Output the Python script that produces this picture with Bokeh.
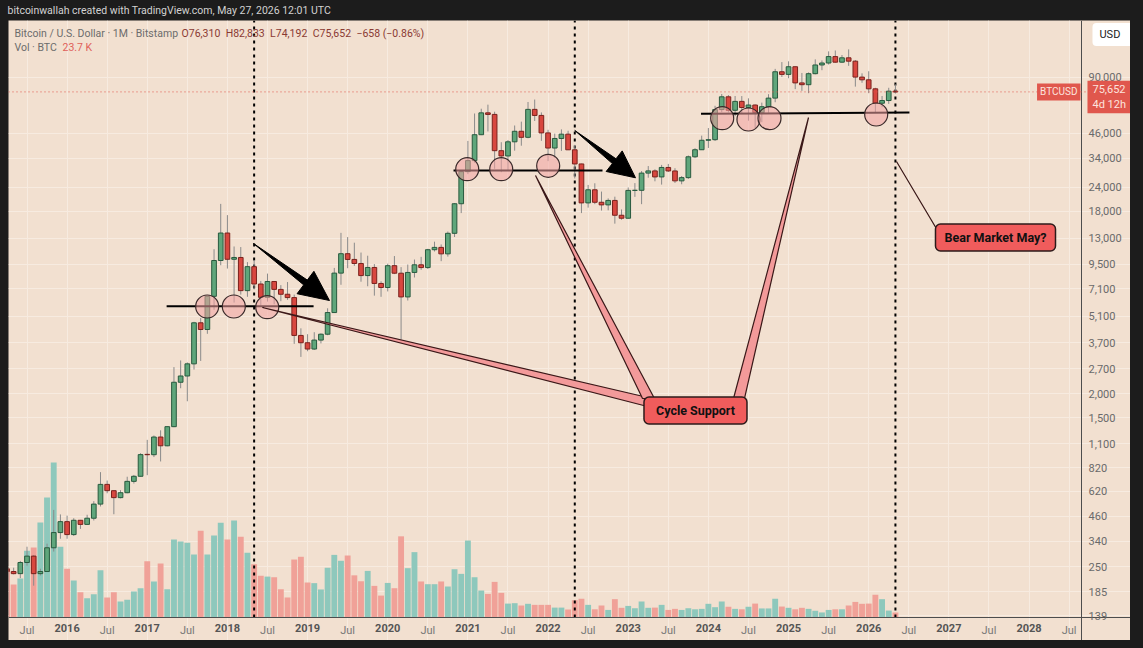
import numpy as np
from bokeh.plotting import figure
from bokeh.layouts import column
from bokeh.models import (Range1d, LinearAxis, LinearScale, FixedTicker,
                          NumeralTickFormatter, Span, Label)
from bokeh.embed import file_html
from bokeh.resources import INLINE

# ---------------- data (monthly BTC/USD, Bitstamp) ----------------
FIRST_MONTH = -9  # Apr 2015, months counted from Jan 2016

opens = [244, 236, 230, 263, 284, 230, 236, 314, 377,
         430, 368, 437, 416, 448, 531, 673, 624, 574, 609, 698, 742,
         966, 962, 1190, 1071, 1348, 2300, 2480, 2870, 4703, 4339, 6468, 9950,
         13850, 10100, 10320, 6925, 9240, 7500, 6390, 7730, 7030, 6630, 6370, 4040,
         3700, 3430, 3820, 4100, 5320, 8550, 10800, 10080, 9600, 8300, 9150, 7550,
         7190, 9350, 8540, 6420, 8620, 9450, 9140, 11330, 11650, 10780, 13800, 19700,
         28990, 33110, 45200, 58800, 57700, 37300, 35000, 41500, 47100, 43800, 61300, 57000,
         46200, 38500, 43200, 45500, 37700, 31800, 19900, 23300, 20050, 19430, 20500, 17150,
         16550, 23130, 23150, 28480, 29250, 27200, 30480, 29230, 25940, 26970, 34650, 37720,
         42280, 42580, 61150, 71300, 60640, 67500, 62700, 64600, 58950, 63300, 70200, 96400,
         93400, 102400, 84300, 82500, 94200, 104600, 107100, 115700, 108200, 114000, 109500, 90400,
         87500, 78500, 66000, 68200, 76310]
highs = [261, 247, 268, 318, 287, 244, 330, 495, 469,
         462, 448, 439, 467, 550, 780, 705, 627, 628, 738, 754, 980,
         1150, 1212, 1290, 1355, 2760, 2990, 2920, 4760, 4980, 6470, 11400, 19666,
         17176, 11780, 11700, 9760, 10000, 7780, 8500, 7760, 7400, 7680, 6600, 4400,
         4100, 4200, 4140, 5600, 9100, 13880, 13190, 12330, 10950, 10540, 9530, 7750,
         9580, 10500, 9190, 9480, 10070, 10400, 11450, 12480, 12070, 14100, 19860, 29300,
         41950, 58350, 61790, 64900, 59600, 41300, 42400, 50500, 52900, 67000, 69000, 59100,
         47950, 45800, 48200, 47400, 40000, 31900, 24700, 25200, 22800, 21000, 21450, 18400,
         23950, 25250, 29200, 31000, 29820, 31430, 31800, 30200, 27500, 35200, 38450, 44700,
         48970, 64000, 73780, 72800, 72000, 71950, 70000, 65100, 66500, 73600, 99800, 108300,
         109300, 102800, 95000, 95700, 111900, 110500, 123200, 124500, 117900, 126200, 111000, 94600,
         97000, 79500, 72000, 79500, 82833]
lows = [214, 228, 218, 253, 199, 225, 236, 300, 350,
        350, 362, 394, 413, 436, 516, 605, 470, 569, 605, 680, 740,
        752, 935, 887, 1065, 1340, 2140, 1830, 2680, 2972, 4120, 5500, 9400,
        9035, 6000, 6600, 6430, 7030, 5780, 6070, 5880, 6100, 6200, 3650, 3120,
        3340, 3390, 3670, 4050, 5320, 7430, 9070, 9330, 7710, 7300, 6520, 6430,
        6860, 8450, 3850, 6150, 8110, 8900, 8990, 11090, 9870, 10430, 13200, 17600,
        28130, 32300, 45000, 47000, 30000, 28800, 29300, 37300, 39600, 43300, 53300, 42000,
        32900, 34300, 37200, 37600, 26700, 17600, 18800, 19600, 18150, 18200, 15500, 16250,
        16500, 21400, 19600, 26950, 25800, 24800, 28850, 25300, 24900, 26550, 34100, 37600,
        38550, 41900, 59300, 59100, 56500, 58450, 53500, 49000, 52550, 58900, 66800, 90500,
        89200, 78200, 76600, 74500, 93400, 98200, 105100, 107400, 107300, 103500, 80600, 84400,
        74500, 59000, 63000, 65500, 74192]
closes = [236, 230, 263, 284, 230, 236, 314, 377, 430,
          368, 437, 416, 448, 531, 673, 624, 574, 609, 698, 742, 963,
          962, 1190, 1071, 1348, 2300, 2480, 2870, 4703, 4339, 6468, 9950, 13850,
          10100, 10320, 6925, 9240, 7500, 6390, 7730, 7030, 6630, 6370, 4040, 3700,
          3430, 3820, 4100, 5320, 8550, 10800, 10080, 9600, 8300, 9150, 7550, 7190,
          9350, 8540, 6420, 8620, 9450, 9140, 11330, 11650, 10780, 13800, 19700, 28990,
          33110, 45200, 58800, 57700, 37300, 35000, 41500, 47100, 43800, 61300, 57000, 46200,
          38500, 43200, 45500, 37700, 31800, 19900, 23300, 20050, 19430, 20500, 17150, 16550,
          23130, 23150, 28480, 29250, 27200, 30480, 29230, 25940, 26970, 34650, 37720, 42280,
          42580, 61150, 71300, 60640, 67500, 62700, 64600, 58950, 63300, 70200, 96400, 93400,
          102400, 84300, 82500, 94200, 104600, 107100, 115700, 108200, 114000, 109500, 90400, 87500,
          78500, 66000, 68200, 76310, 75652]
volume_k = [226, 156, 185, 316, 332, 450, 569, 735, 335,
            231, 175, 120, 91, 110, 224, 95, 120, 76, 84, 123, 139,
            267, 171, 256, 134, 370, 360, 354, 299, 412, 299, 389, 449,
            370, 460, 383, 307, 253, 198, 194, 191, 134, 95, 275, 288,
            166, 163, 133, 236, 297, 269, 294, 200, 172, 221, 150, 104,
            164, 139, 385, 234, 310, 171, 158, 158, 171, 147, 229, 207,
            365, 191, 128, 112, 169, 117, 66, 68, 57, 65, 60, 60,
            60, 47, 47, 38, 82, 89, 60, 39, 57, 36, 87, 46,
            55, 44, 76, 46, 47, 60, 36, 41, 36, 44, 39, 41,
            65, 49, 76, 51, 41, 39, 51, 66, 43, 43, 89, 52,
            46, 39, 46, 41, 32, 24, 36, 39, 39, 57, 74, 65,
            66, 108, 87, 33, 23.7]

year_ticks = [0, 12, 24, 36, 48, 60, 72, 84, 96, 108, 120, 132, 144]
year_labels = ["2016", "2017", "2018", "2019", "2020", "2021", "2022",
               "2023", "2024", "2025", "2026", "2027", "2028"]
jul_ticks = [-6, 6, 18, 30, 42, 54, 66, 78, 90, 102, 114, 126, 138, 150]
price_ticks = [139, 185, 250, 340, 460, 620, 820, 1100, 1500, 2000, 2700, 3700,
               5100, 7100, 9500, 13000, 18000, 24000, 34000, 46000, 90000]

# drawing annotations (month index, price)
cycle_months = [28, 76, 124]
last_price = 75652
support_x0 = [14.9, 57.85, 94.9]
support_x1 = [36.9, 80.15, 126.1]
support_y0 = [5740, 29380, 58130]
support_y1 = [5740, 29380, 59030]
circle_x = [20.97, 24.96, 29.96, 59.9, 64.99, 72.02, 98.07, 102.0, 105.15, 121.12]
circle_y = [5723, 5723, 5675, 29850, 29850, 31100, 55120, 54270, 55120, 57650]
arrow_xs = [[27.90, 35.42, 34.43, 39.28, 36.95, 35.96],
            [76.0, 81.63, 80.70, 85.09, 83.10, 82.17]]
arrow_ys = [[12210, 7421, 6674, 6150, 8741, 7863],
            [47550, 31940, 29040, 26920, 37200, 33830]]
pointer_xs = [[29.25, 86.29, 86.89], [70.12, 86.14, 87.93],
              [110.99, 99.76, 101.41], [124.16, 130.30, 131.20]]
pointer_ys = [[5654, 1938, 1718], [27670, 1892, 1892],
              [55590, 1892, 1892], [32740, 14280, 12660]]
callout_text = ["Cycle Support", "Bear Market May?"]
callout_x = [94.07, 138.98]
callout_y = [1638, 13120]
callout_padx = [12, 9]

# ---------------- styling ----------------
BG = "#f2e0d0"
DARK = "#1c1c1c"
FONT = "Roboto"
UP_FILL, UP_LINE = "#5fa67b", "#285a3e"
DN_FILL, DN_LINE = "#d8473f", "#7a221d"
VOL_UP, VOL_DN = "#8ec8bc", "#f0a198"

o = np.array(opens, float)
h = np.array(highs, float)
l = np.array(lows, float)
c = np.array(closes, float)
v = np.array(volume_k, float)
x = np.arange(len(o)) + FIRST_MONTH
up = c >= o

# ---- title strip ----
tfig = figure(width=1143, height=20, x_range=Range1d(0, 1143), y_range=Range1d(0, 20),
              output_backend="svg", toolbar_location=None,
              x_axis_location=None, y_axis_location=None, min_border=0,
              background_fill_color=DARK, border_fill_color=DARK, outline_line_color=None)
tfig.xgrid.visible = False
tfig.ygrid.visible = False
tfig.add_layout(Label(x=7, y=10, text="bitcoinwallah created with TradingView.com, May 27, 2026 12:01 UTC",
                      text_baseline="middle", text_font=FONT, text_font_size="10.5px",
                      text_color="#d2d2d2"))

# ---- main chart (frame also holds the two scale strips; axes sit at fixed spots) ----
AXIS_X = 151.86        # month position of the price-scale line
AXIS_Y = 135.7         # price at the time-scale line
Y_BOTTOM, Y_TOP = 102.9, 178600
p = figure(frame_width=1122, frame_height=620,
           x_range=Range1d(-8.77, 159.19), y_range=Range1d(Y_BOTTOM, Y_TOP),
           y_axis_type="log", y_axis_location="right",
           output_backend="svg", toolbar_location=None,
           min_border_left=0, min_border_right=0, min_border_bottom=0, min_border_top=0,
           background_fill_color=BG, border_fill_color=BG, outline_line_color=None)
p.margin = (0, 0, 0, 8)

p.extra_y_ranges = {"vol": Range1d(-109, 2831)}
p.extra_y_scales = {"vol": LinearScale()}

# grids
p.xgrid.ticker = FixedTicker(ticks=sorted(year_ticks + jul_ticks))
p.ygrid.ticker = FixedTicker(ticks=price_ticks)
p.grid.grid_line_color = "#f7ebe0"
p.grid.grid_line_width = 1

# y axis (price scale)
ya = p.yaxis[0]
ya.ticker = FixedTicker(ticks=price_ticks)
ya.formatter = NumeralTickFormatter(format="0,0")
ya.fixed_location = AXIS_X
ya.major_label_text_font = FONT
ya.major_label_text_font_size = "11px"
ya.major_label_text_color = "#6a6a6a"
ya.axis_line_color = "#4d4d4d"
ya.major_tick_line_color = None
ya.major_tick_out = 0
ya.major_tick_in = 0
ya.minor_tick_line_color = None
ya.minor_tick_out = 0
ya.major_label_standoff = 7

# x axis (years, bold)
xa = p.xaxis[0]
xa.ticker = FixedTicker(ticks=year_ticks)
xa.major_label_overrides = {t: s for t, s in zip(year_ticks, year_labels)}
xa.fixed_location = AXIS_Y
xa.major_label_text_font = FONT
xa.major_label_text_font_size = "11px"
xa.major_label_text_font_style = "bold"
xa.major_label_text_color = "#555555"
xa.axis_line_color = "#4d4d4d"
xa.major_tick_line_color = None
xa.major_tick_out = 0
xa.major_tick_in = 0
xa.minor_tick_line_color = None
xa.minor_tick_out = 0
xa.major_label_standoff = 6

# half-year labels on the same line
jul_axis = LinearAxis(ticker=FixedTicker(ticks=jul_ticks),
                      major_label_overrides={t: "Jul" for t in jul_ticks},
                      major_label_text_font=FONT, major_label_text_font_size="11px",
                      major_label_text_color="#777777", axis_line_color=None,
                      major_tick_line_color=None, major_tick_out=0, major_tick_in=0,
                      minor_tick_line_color=None, minor_tick_out=0,
                      major_label_standoff=6, fixed_location=AXIS_Y)
p.add_layout(jul_axis, "below")

# volume
p.vbar(x=x[up], width=0.88, bottom=0, top=v[up], fill_color=VOL_UP, line_color=None, y_range_name="vol")
p.vbar(x=x[~up], width=0.88, bottom=0, top=v[~up], fill_color=VOL_DN, line_color=None, y_range_name="vol")

# cycle lines & last price line
p.segment(x0=cycle_months, y0=[AXIS_Y] * len(cycle_months), x1=cycle_months,
          y1=[Y_TOP] * len(cycle_months), line_color="black", line_width=2, line_dash="3 4")
p.add_layout(Span(location=last_price, dimension="width", line_color="#e0574d",
                  line_width=1, line_dash="1 3"))

# candles
p.segment(x0=x, y0=l, x1=x, y1=h, line_color="#8a8a8a", line_width=1)
p.vbar(x=x[up], width=0.7, bottom=o[up], top=c[up], fill_color=UP_FILL, line_color=UP_LINE, line_width=1)
p.vbar(x=x[~up], width=0.7, bottom=c[~up], top=o[~up], fill_color=DN_FILL, line_color=DN_LINE, line_width=1)

# support lines, circles, arrows, pointers
p.segment(x0=support_x0, y0=support_y0, x1=support_x1, y1=support_y1, line_color="black", line_width=2)
p.scatter(x=circle_x, y=circle_y, size=23, fill_color="#f3a3a3", fill_alpha=0.55,
          line_color="#3a2a2a", line_width=1.2)
p.patches(xs=arrow_xs, ys=arrow_ys, fill_color="black", line_color="black", line_width=1)
p.patches(xs=pointer_xs, ys=pointer_ys, fill_color="#f39a9a", line_color="#3a1818", line_width=1.2)

for t, cx, cy, px in zip(callout_text, callout_x, callout_y, callout_padx):
    p.add_layout(Label(x=cx, y=cy, text=t, text_align="center", text_baseline="middle",
                       text_font=FONT, text_font_size="12.5px", text_font_style="bold",
                       text_color="#111111", background_fill_color="#f05c5c",
                       border_line_color="#2d1a1a", border_line_width=1.5,
                       padding={"left": px, "right": px, "top": 6, "bottom": 6},
                       border_radius=5))

# legend texts (top-left)
p.add_layout(Label(x=-7.87, y=152700, text="Bitcoin / U.S. Dollar · 1M · Bitstamp",
                   text_baseline="middle", text_font=FONT, text_font_size="10.5px",
                   text_color="#6c6c6c"))
p.add_layout(Label(x=17.13, y=152700,
                   text="O76,310\u2002H82,833\u2002L74,192\u2002C75,652\u2002\u2212658 (\u22120.86%)",
                   text_baseline="middle", text_font=FONT, text_font_size="10.5px",
                   text_color="#8a3a33"))
p.add_layout(Label(x=-7.87, y=129000, text="Vol · BTC", text_baseline="middle",
                   text_font=FONT, text_font_size="10.5px", text_color="#6c6c6c"))
p.add_layout(Label(x=-0.69, y=129000, text="23.7 K", text_baseline="middle",
                   text_font=FONT, text_font_size="10.5px", text_color="#e0615a"))

# price tags
p.add_layout(Label(x=151.7, y=last_price, text="BTCUSD", text_align="right",
                   text_baseline="middle", text_font=FONT, text_font_size="10px",
                   text_color="#fde3de", background_fill_color="#e0574d", padding=3))
p.add_layout(Label(x=152.75, y=71100, text="75,652\n4d 12h", text_align="left",
                   text_baseline="middle", text_font=FONT, text_font_size="11px",
                   text_color="#fde3de", background_fill_color="#e0574d",
                   padding={"left": 5, "right": 8, "top": 2, "bottom": 2}))
p.add_layout(Label(x=153.5, y=150900, text="USD", text_align="left",
                   text_baseline="middle", text_font=FONT, text_font_size="11px",
                   text_color="#222222", background_fill_color="white",
                   padding={"left": 7, "right": 14, "top": 5, "bottom": 5}, border_radius=4))

page = column(tfig, p, spacing=0)
open("out.html", "w").write(file_html(page, INLINE).replace(
    "</head>", "<style>body{background:#1c1c1c;}</style></head>", 1))
